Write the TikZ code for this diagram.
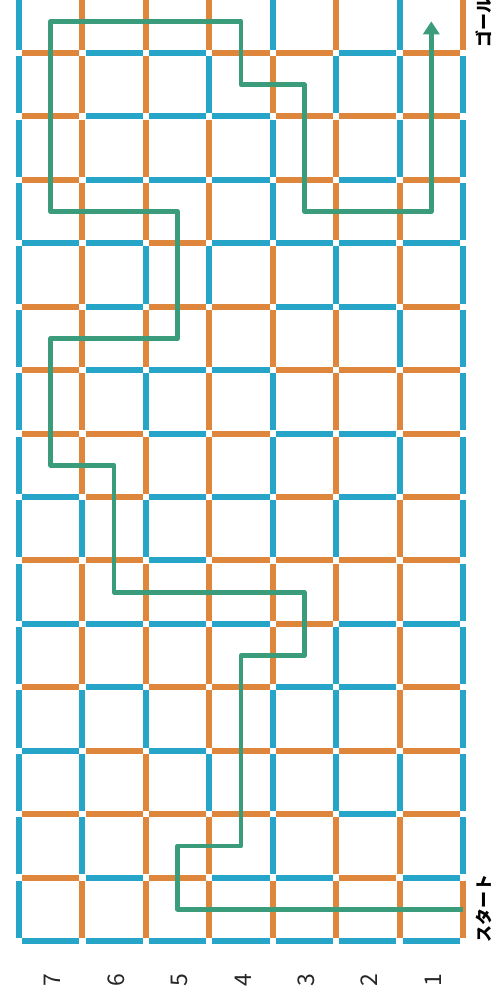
\documentclass[tikz,border=0pt]{standalone}
\usepackage{fontspec}
\newfontfamily\jp{Noto Sans CJK JP}
\usetikzlibrary{arrows.meta}
\definecolor{B}{HTML}{27A5C8}
\definecolor{O}{HTML}{DE873C}
\definecolor{pathgreen}{HTML}{3A9C7A}
\newcommand\gridV[2]{\foreach \col [count=\nr from 0] in {#2} {\draw[seg,color=\col] ({19+63.43*#1},{941-63.43*\nr-3.2}) -- ({19+63.43*#1},{941-63.43*(\nr+1)+3.2});}}
\newcommand\gridH[2]{\foreach \col [count=\nc from 0] in {#2} {\draw[seg,color=\col] ({19+63.43*\nc+3.2},{941-63.43*#1}) -- ({19+63.43*(\nc+1)-3.2},{941-63.43*#1});}}
\tikzset{
  seg/.style={line width=6pt},
  route/.style={draw=pathgreen,line width=4.6pt,line join=round,-{Triangle[length=13pt,width=16pt]}},
  lab/.style={font=\jp\bfseries\fontsize{17}{17}\selectfont,inner sep=0pt,rotate=90},
  num/.style={font=\jp\fontsize{23}{23}\selectfont,inner sep=0pt,rotate=90,text=black!85}
}
\begin{document}
\begin{tikzpicture}[x=1pt,y=-1pt]
\useasboundingbox (0,0) rectangle (495,1005);
\clip (0,0) rectangle (495,1005);
% vertical lines, rows 0..14 from bottom
\gridV{0}{B,B,B,B,B,B,B,B,B,B,B,B,B,B,B}
\gridV{1}{O,B,B,B,O,O,B,O,O,O,O,O,O,O,O}
\gridV{2}{O,O,O,B,O,O,B,O,B,O,B,O,O,O,O}
\gridV{3}{O,O,B,O,O,O,O,O,O,O,B,O,O,B,O}
\gridV{4}{O,B,B,B,O,O,B,B,B,O,O,B,B,O,B}
\gridV{5}{O,O,B,B,B,O,B,O,O,O,B,O,O,B,O}
\gridV{6}{O,O,B,O,O,O,O,B,O,B,O,O,B,B,B}
\gridV{7}{O,B,B,B,B,B,B,B,B,B,B,B,B,B,O}
% horizontal lines, columns 0..6 from left
\gridH{0}{B,B,B,B,B,B,B}
\gridH{1}{O,B,O,B,B,O,B}
\gridH{2}{O,O,O,O,O,B,O}
\gridH{3}{B,O,B,O,O,O,O}
\gridH{4}{O,B,O,O,B,B,O}
\gridH{5}{B,B,B,B,O,B,B}
\gridH{6}{O,O,B,O,O,O,O}
\gridH{7}{B,O,B,B,O,B,O}
\gridH{8}{O,O,B,O,B,B,O}
\gridH{9}{O,B,B,B,O,O,O}
\gridH{10}{O,B,O,O,B,B,O}
\gridH{11}{B,B,O,B,B,B,B}
\gridH{12}{O,B,B,B,O,B,O}
\gridH{13}{O,B,B,B,O,O,O}
\gridH{14}{O,B,B,O,O,B,O}
% route
\coordinate (s) at (463,909.3);
\coordinate (e) at (431.3,21.3);
\draw[route] (s) -- (177.6,909.3) -- (177.6,845.9) -- (241.0,845.9) -- (241.0,655.6)
  -- (304.4,655.6) -- (304.4,592.2) -- (114.1,592.2) -- (114.1,465.3) -- (50.7,465.3)
  -- (50.7,338.4) -- (177.6,338.4) -- (177.6,211.6) -- (50.7,211.6) -- (50.7,21.3)
  -- (241.0,21.3) -- (241.0,84.7) -- (304.4,84.7) -- (304.4,211.6) -- (431.3,211.6) -- (e);
% labels
\node[lab] (start) at (484,908) {スタート};
\node[lab] (goal) at (484,22) {ゴール};
\node[num] (n7) at (52,980) {7};
\node[num] (n6) at (116,980) {6};
\node[num] (n5) at (179,980) {5};
\node[num] (n4) at (243,980) {4};
\node[num] (n3) at (306,980) {3};
\node[num] (n2) at (369,980) {2};
\node[num] (n1) at (433,980) {1};
\end{tikzpicture}
\end{document}
